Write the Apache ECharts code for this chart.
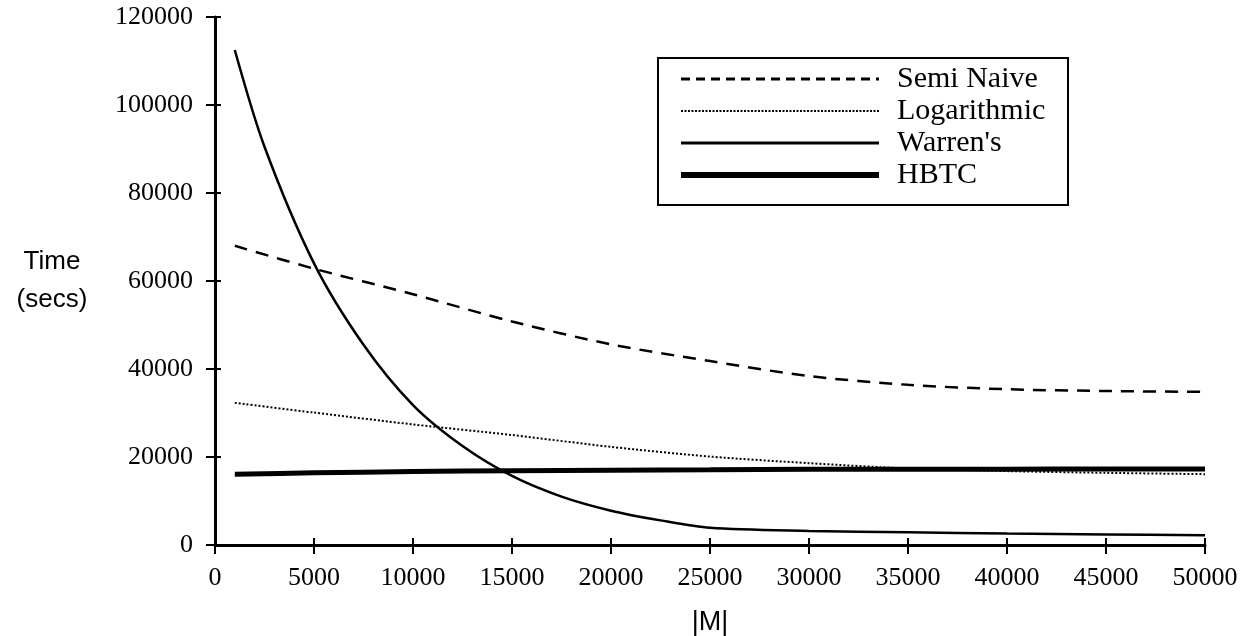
<!DOCTYPE html>
<html>
<head>
<meta charset="utf-8">
<script src="https://cdn.jsdelivr.net/npm/echarts@6/dist/echarts.min.js"></script>
<style>
  html, body { margin: 0; padding: 0; background: #fff; }
  #main { width: 1247px; height: 636px; }
</style>
</head>
<body>
<div id="main"></div>
<script>
// x positions (|M|)
var xMain = [1000, 5000, 10000, 15000, 20000, 25000, 30000, 35000, 40000, 45000, 50000];
var xWarren = [1000, 2500, 5000, 7500, 10000, 12500, 15000, 17500, 20000, 22500, 25000, 30000, 35000, 40000, 45000, 50000];

// time in secs
var semiNaive = [68000, 62800, 57000, 50800, 45600, 41800, 38400, 36400, 35400, 35000, 34800];
var logarithmic = [32300, 30100, 27400, 25000, 22300, 20100, 18600, 17400, 16800, 16400, 16100];
var warrens = [112500, 90500, 64000, 45500, 31800, 22500, 15700, 11000, 7800, 5600, 3900, 3200, 2900, 2600, 2400, 2200];
var hbtc = [16100, 16400, 16700, 16900, 17000, 17100, 17200, 17200, 17200, 17300, 17300];

function pairs(xs, ys) {
    var out = [];
    for (var i = 0; i < xs.length; i++) {
        out.push([xs[i], ys[i]]);
    }
    return out;
}

var chart = echarts.init(document.getElementById('main'));

var serif = 'Liberation Serif';
var sans = 'Liberation Sans';

// plain numbers, no thousands separator
function plain(v) { return String(v); }

// shared axis bits
var xBase = { type: 'value', min: 0, max: 50000, interval: 5000, splitLine: { show: false } };
var yBase = { type: 'value', min: 0, max: 120000, interval: 20000, splitLine: { show: false } };

chart.setOption({
    animation: false,
    backgroundColor: '#fff',
    grid: { left: 215, right: 42, top: 17, bottom: 91, outerBoundsMode: 'none' },
    legend: {
        orient: 'vertical',
        left: 678,
        top: 63,
        padding: 0,
        itemWidth: 198,
        itemHeight: 14,
        itemGap: 0,
        itemStyle: { color: 'rgba(0,0,0,0)', borderWidth: 0, opacity: 0 },
        data: [
            { name: 'Semi Naive', lineStyle: { color: '#000', width: 3, type: [9, 6] } },
            { name: 'Logarithmic', lineStyle: { color: '#000', width: 2, type: [2, 1.5] } },
            { name: "Warren's", lineStyle: { color: '#000', width: 3, type: 'solid' } },
            { name: 'HBTC', lineStyle: { color: '#000', width: 6, type: 'solid' } }
        ],
        textStyle: { fontFamily: serif, fontSize: 30, lineHeight: 32, color: '#000', padding: [0, 0, 0, 13] }
    },
    graphic: [{
        type: 'rect',
        shape: { x: 658, y: 58, width: 410, height: 147 },
        style: { fill: 'none', stroke: '#000', lineWidth: 2 },
        silent: true
    }],
    xAxis: [
        Object.assign({}, xBase, {
            position: 'bottom',
            name: '|M|',
            nameLocation: 'middle',
            nameGap: 64,
            nameTextStyle: { fontFamily: sans, fontSize: 27, color: '#000', verticalAlign: 'top' },
            axisLine: { lineStyle: { color: '#000', width: 3 } },
            axisTick: { length: 9, lineStyle: { color: '#000', width: 2 } },
            axisLabel: { margin: 20, fontFamily: serif, fontSize: 26, color: '#000', formatter: plain }
        }),
        Object.assign({}, xBase, {
            position: 'bottom',
            axisLine: { show: false },
            axisTick: { inside: true, length: 7, lineStyle: { color: '#000', width: 2 } },
            axisLabel: { show: false }
        })
    ],
    yAxis: [
        Object.assign({}, yBase, {
            position: 'left',
            name: 'Time\n(secs)',
            nameLocation: 'middle',
            nameRotate: 0,
            nameGap: 163,
            nameTextStyle: { fontFamily: sans, fontSize: 26, lineHeight: 38, color: '#000', align: 'center', verticalAlign: 'middle' },
            axisLine: { lineStyle: { color: '#000', width: 3 } },
            axisTick: { length: 9, lineStyle: { color: '#000', width: 2 } },
            axisLabel: { margin: 22, fontFamily: serif, fontSize: 26, color: '#000', formatter: plain }
        }),
        Object.assign({}, yBase, {
            position: 'left',
            axisLine: { show: false },
            axisTick: { inside: true, length: 6, lineStyle: { color: '#000', width: 2 } },
            axisLabel: { show: false }
        })
    ],
    series: [
        {
            name: 'Semi Naive', type: 'line', smooth: 0.3, symbol: 'none',
            data: pairs(xMain, semiNaive),
            itemStyle: { color: '#000' },
            lineStyle: { color: '#000', width: 2.5, type: [13, 9] }
        },
        {
            name: 'Logarithmic', type: 'line', smooth: 0.3, symbol: 'none',
            data: pairs(xMain, logarithmic),
            itemStyle: { color: '#000' },
            lineStyle: { color: '#000', width: 2, type: [2, 2] }
        },
        {
            name: "Warren's", type: 'line', smooth: 0.3, symbol: 'none',
            data: pairs(xWarren, warrens),
            itemStyle: { color: '#000' },
            lineStyle: { color: '#000', width: 2.5 }
        },
        {
            name: 'HBTC', type: 'line', smooth: 0.3, symbol: 'none',
            data: pairs(xMain, hbtc),
            itemStyle: { color: '#000' },
            lineStyle: { color: '#000', width: 5 }
        }
    ]
});
</script>
</body>
</html>
